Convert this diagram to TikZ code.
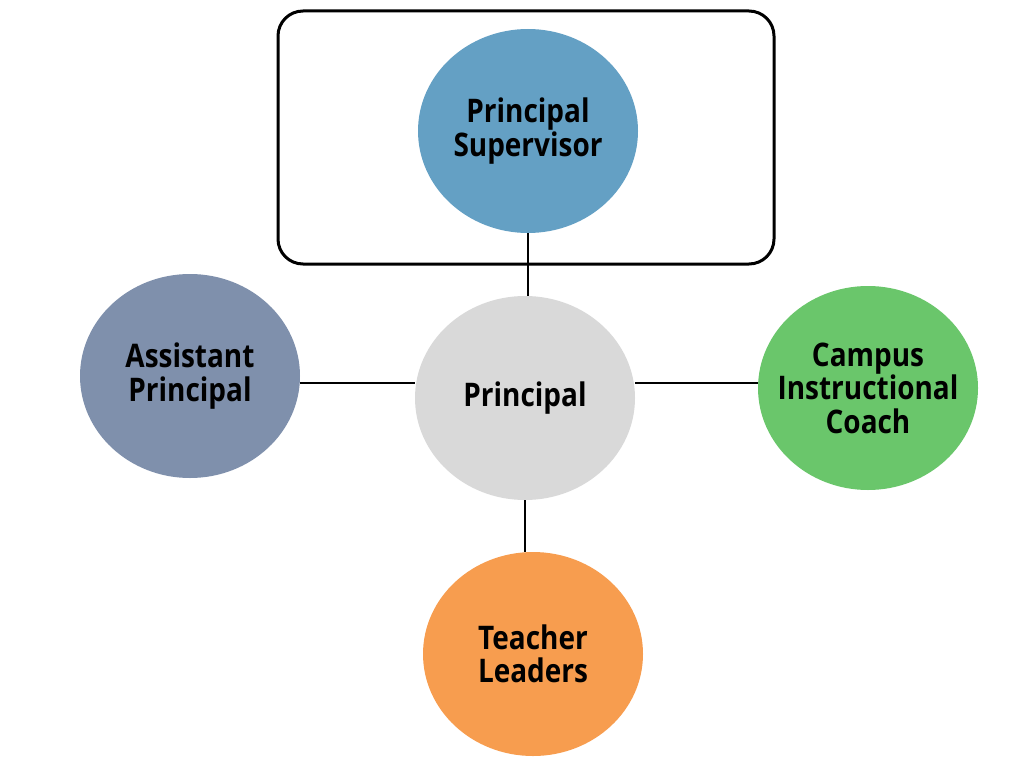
\documentclass[tikz,border=0pt]{standalone}
\usepackage{fontspec}
\setmainfont{Open Sans}[FakeStretch=0.86]
\usepackage{tikz}
\usetikzlibrary{shapes.geometric}

\definecolor{supblue}{HTML}{64A0C4}
\definecolor{asstgray}{HTML}{7F90AC}
\definecolor{coachgreen}{HTML}{6AC66B}
\definecolor{leadorange}{HTML}{F79D4F}
\definecolor{princgray}{HTML}{D9D9D9}

\begin{document}
\begin{tikzpicture}[x=1pt,y=-1pt,semithick]
	\tikzstyle{every node}=[font=\fontsize{32.5}{33.5}\selectfont\bfseries]
	\tikzstyle{role}=[ellipse,draw=none,minimum width=220pt,minimum height=204pt,align=center,inner sep=-20pt]
	\tikzstyle{link}=[black,line width=1.3pt]

	\useasboundingbox (0,0) rectangle (1024,768);
	\draw[line width=3pt,rounded corners=25pt] (278,11) rectangle (774,264);

	\node[role,fill=supblue]    (S) at (528,131) {Principal\\Supervisor};
	\node[role,fill=princgray]  (P) at (525,398) {Principal};
	\node[role,fill=asstgray]   (A) at (190,376) {Assistant\\Principal};
	\node[role,fill=coachgreen] (C) at (868,388) {Campus\\Instructional\\Coach};
	\node[role,fill=leadorange] (T) at (533,654) {Teacher\\Leaders};
	\coordinate (mid) at (0,383);

	\draw[link] (S.south) -- (S.south |- P.north);
	\draw[link] (A.east |- mid) -- (P.west |- mid);
	\draw[link] (P.east |- mid) -- (C.west |- mid);
	\draw[link] (P.south) -- (P.south |- T.north);

\end{tikzpicture}
\end{document}
